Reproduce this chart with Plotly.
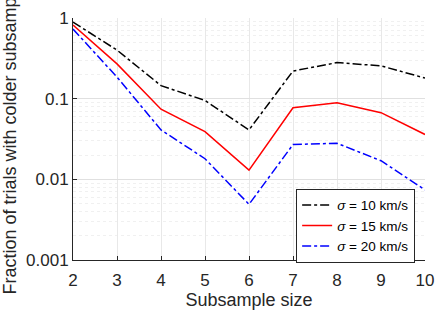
import plotly.graph_objects as go

subsample = [2, 3, 4, 5, 6, 7, 8, 9, 10]
frac_10 = [0.89, 0.40, 0.145, 0.095, 0.041, 0.22, 0.28, 0.255, 0.18]
frac_15 = [0.82, 0.27, 0.074, 0.039, 0.013, 0.077, 0.089, 0.067, 0.036]
frac_20 = [0.73, 0.185, 0.041, 0.018, 0.0049, 0.027, 0.028, 0.017, 0.0074]
ytick_vals = [0.001, 0.01, 0.1, 1]
ytick_text = ["0.001", "0.01", "0.1", "1"]
yminor_vals = [m * d for d in (0.001, 0.01, 0.1) for m in range(2, 10)]

fig = go.Figure()
fig.add_trace(go.Scatter(x=subsample, y=frac_10, mode="lines", name="<i>σ</i> = 10 km/s",
                         line=dict(color="black", width=1.5, dash="dashdot")))
fig.add_trace(go.Scatter(x=subsample, y=frac_15, mode="lines", name="<i>σ</i> = 15 km/s",
                         line=dict(color="#ff0000", width=1.5)))
fig.add_trace(go.Scatter(x=subsample, y=frac_20, mode="lines", name="<i>σ</i> = 20 km/s",
                         line=dict(color="#0000ff", width=1.5, dash="dashdot")))

font = "Liberation Sans, Arial, sans-serif"
fig.update_layout(
    width=439, height=312,
    margin=dict(l=73, r=14, t=18, b=52),
    paper_bgcolor="white", plot_bgcolor="white",
    font=dict(family=font, size=17, color="#262626"),
    legend=dict(x=0.972, y=0.295, xanchor="right", yanchor="top",
                bordercolor="#262626", borderwidth=1, bgcolor="white",
                font=dict(size=13.5, color="black"), tracegroupgap=0,
                itemwidth=30),
    showlegend=True,
)
fig.update_xaxes(
    range=[2, 10], dtick=1, automargin=False,
    title=dict(text="Subsample size", font=dict(size=18), standoff=2),
    showgrid=True, gridcolor="#e8e8e8", gridwidth=1,
    showline=True, linecolor="#262626", linewidth=1,
    ticks="inside", ticklen=4, tickcolor="#262626", zeroline=False,
    ticklabelstandoff=5,
)
fig.update_yaxes(
    type="log", range=[-3, 0], tickvals=ytick_vals, ticktext=ytick_text, automargin=False,
    title=dict(text="Fraction of trials with colder subsample", font=dict(size=18), standoff=6),
    showgrid=True, gridcolor="#e0e0e0", gridwidth=1,
    minor=dict(tickvals=yminor_vals, showgrid=True, gridcolor="#f0f0f0", gridwidth=1,
               griddash="dot", ticks=""),
    showline=True, linecolor="#262626", linewidth=1,
    ticks="inside", ticklen=4, tickcolor="#262626", zeroline=False,
)
fig.write_html("out.html")
